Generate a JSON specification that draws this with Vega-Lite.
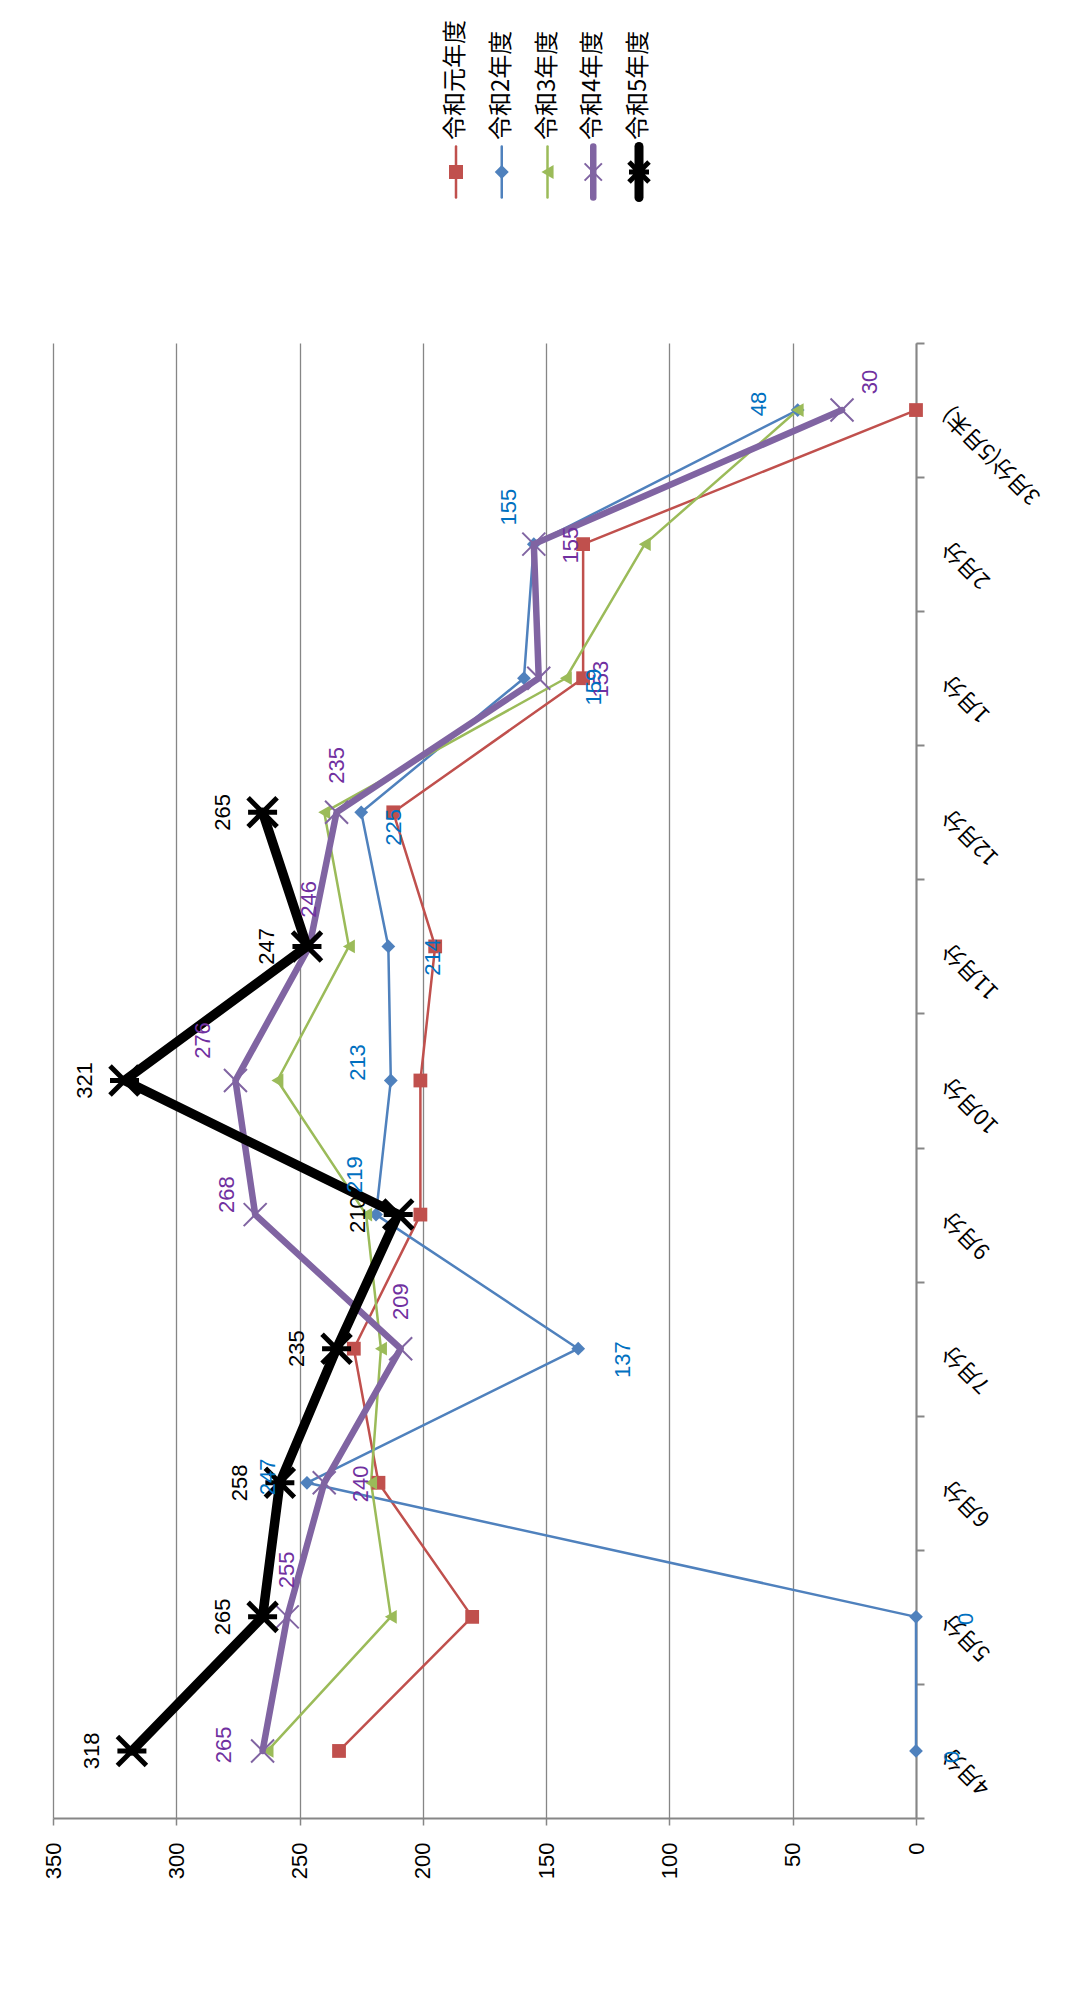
{
  "$schema": "https://vega.github.io/schema/vega-lite/v6.json",
  "padding": {"left": 42, "top": 5, "right": 5, "bottom": 5},
  "bounds": "flush",
  "spacing": 4,
  "config": {
    "view": {"stroke": null},
    "text": {"font": "Liberation Sans", "fontSize": 22, "angle": 270, "align": "center", "baseline": "middle"}
  },
  "datasets": {
    "d": [
      {"s": "令和元年度", "m": "4月分", "v": 234},
      {"s": "令和元年度", "m": "5月分", "v": 180},
      {"s": "令和元年度", "m": "6月分", "v": 218},
      {"s": "令和元年度", "m": "7月分", "v": 228},
      {"s": "令和元年度", "m": "9月分", "v": 201},
      {"s": "令和元年度", "m": "10月分", "v": 201},
      {"s": "令和元年度", "m": "11月分", "v": 195},
      {"s": "令和元年度", "m": "12月分", "v": 212},
      {"s": "令和元年度", "m": "1月分", "v": 135},
      {"s": "令和元年度", "m": "2月分", "v": 135},
      {"s": "令和元年度", "m": "3月分(5月末)", "v": 0},
      {"s": "令和2年度", "m": "4月分", "v": 0},
      {"s": "令和2年度", "m": "5月分", "v": 0},
      {"s": "令和2年度", "m": "6月分", "v": 247},
      {"s": "令和2年度", "m": "7月分", "v": 137},
      {"s": "令和2年度", "m": "9月分", "v": 219},
      {"s": "令和2年度", "m": "10月分", "v": 213},
      {"s": "令和2年度", "m": "11月分", "v": 214},
      {"s": "令和2年度", "m": "12月分", "v": 225},
      {"s": "令和2年度", "m": "1月分", "v": 159},
      {"s": "令和2年度", "m": "2月分", "v": 155},
      {"s": "令和2年度", "m": "3月分(5月末)", "v": 48},
      {"s": "令和3年度", "m": "4月分", "v": 263},
      {"s": "令和3年度", "m": "5月分", "v": 213},
      {"s": "令和3年度", "m": "6月分", "v": 221},
      {"s": "令和3年度", "m": "7月分", "v": 217},
      {"s": "令和3年度", "m": "9月分", "v": 223},
      {"s": "令和3年度", "m": "10月分", "v": 259},
      {"s": "令和3年度", "m": "11月分", "v": 230},
      {"s": "令和3年度", "m": "12月分", "v": 240},
      {"s": "令和3年度", "m": "1月分", "v": 142},
      {"s": "令和3年度", "m": "2月分", "v": 110},
      {"s": "令和3年度", "m": "3月分(5月末)", "v": 48},
      {"s": "令和4年度", "m": "4月分", "v": 265},
      {"s": "令和4年度", "m": "5月分", "v": 255},
      {"s": "令和4年度", "m": "6月分", "v": 240},
      {"s": "令和4年度", "m": "7月分", "v": 209},
      {"s": "令和4年度", "m": "9月分", "v": 268},
      {"s": "令和4年度", "m": "10月分", "v": 276},
      {"s": "令和4年度", "m": "11月分", "v": 246},
      {"s": "令和4年度", "m": "12月分", "v": 235},
      {"s": "令和4年度", "m": "1月分", "v": 153},
      {"s": "令和4年度", "m": "2月分", "v": 155},
      {"s": "令和4年度", "m": "3月分(5月末)", "v": 30},
      {"s": "令和5年度", "m": "4月分", "v": 318},
      {"s": "令和5年度", "m": "5月分", "v": 265},
      {"s": "令和5年度", "m": "6月分", "v": 258},
      {"s": "令和5年度", "m": "7月分", "v": 235},
      {"s": "令和5年度", "m": "9月分", "v": 210},
      {"s": "令和5年度", "m": "10月分", "v": 321},
      {"s": "令和5年度", "m": "11月分", "v": 247},
      {"s": "令和5年度", "m": "12月分", "v": 265}
    ],
    "leg": [
      {"s": "令和元年度"}, {"s": "令和2年度"}, {"s": "令和3年度"}, {"s": "令和4年度"}, {"s": "令和5年度"}
    ]
  },
  "vconcat": [
    {
      "width": 863,
      "height": 334,
      "data": {"name": "leg"},
      "encoding": {
        "x": {"field": "s", "type": "nominal", "scale": {"type": "point", "domain": ["令和元年度", "令和2年度", "令和3年度", "令和4年度", "令和5年度"], "padding": 0, "range": [403, 586]}, "axis": null},
        "color": {"field": "s", "type": "nominal", "scale": {"domain": ["令和元年度", "令和2年度", "令和3年度", "令和4年度", "令和5年度"], "range": ["#C0504D", "#4F81BD", "#9BBB59", "#8064A2", "#000000"]}, "legend": null}
      },
      "layer": [
        {"transform": [{"filter": "datum.s !== '令和4年度' && datum.s !== '令和5年度'"}], "mark": {"type": "point", "shape": "M0,-1L0,1", "size": 2601, "filled": false, "strokeWidth": 2.5, "strokeCap": "round", "opacity": 1}},
        {"transform": [{"filter": "datum.s === '令和4年度'"}], "mark": {"type": "point", "shape": "M0,-1L0,1", "size": 2601, "filled": false, "strokeWidth": 6.5, "strokeCap": "round", "opacity": 1}},
        {"transform": [{"filter": "datum.s === '令和5年度'"}], "mark": {"type": "point", "shape": "M0,-1L0,1", "size": 2601, "filled": false, "strokeWidth": 9, "strokeCap": "round", "opacity": 1}},
        {"transform": [{"filter": "datum.s !== '令和4年度' && datum.s !== '令和5年度'"}], "mark": {"type": "point", "filled": true, "size": 196, "opacity": 1},
         "encoding": {"shape": {"field": "s", "type": "nominal", "scale": {"domain": ["令和元年度", "令和2年度", "令和3年度"], "range": ["square", "diamond", "triangle-left"]}, "legend": null}}},
        {"transform": [{"filter": "datum.s === '令和4年度'"}], "mark": {"type": "point", "shape": "M-1,-1L1,1M-1,1L1,-1", "size": 300, "filled": false, "strokeWidth": 2, "opacity": 1}},
        {"transform": [{"filter": "datum.s === '令和5年度'"}], "mark": {"type": "point", "shape": "M-1,-1L1,1M-1,1L1,-1M-1,0L1,0", "size": 400, "filled": false, "strokeWidth": 5, "opacity": 1}},
        {"mark": {"type": "text", "angle": 270, "align": "left", "baseline": "middle", "dx": 32, "font": "Noto Sans CJK JP", "fontSize": 24},
         "encoding": {"text": {"field": "s", "type": "nominal"}, "color": {"value": "#000000"}}}
      ]
    },
    {
      "width": 863,
      "height": 1475,
      "data": {"name": "d"},
      "encoding": {
        "y": {"field": "m", "type": "ordinal", "bandPosition": 0.5,
          "scale": {"type": "band", "domain": ["3月分(5月末)", "2月分", "1月分", "12月分", "11月分", "10月分", "9月分", "7月分", "6月分", "5月分", "4月分"], "paddingInner": 0, "paddingOuter": 0},
          "axis": {"orient": "right", "title": null, "grid": false, "domainColor": "#868686", "domainWidth": 2, "tickColor": "#868686", "tickWidth": 2, "tickSize": 8, "tickBand": "extent",
            "labelAngle": 225, "labelAlign": "right", "labelBaseline": "middle", "labelPadding": 22, "labelFont": "Noto Sans CJK JP", "labelFontSize": 22, "labelColor": "#000000", "labelOverlap": false, "labelLimit": 0}},
        "x": {"field": "v", "type": "quantitative",
          "scale": {"domain": [0, 350], "reverse": true, "nice": false, "zero": true},
          "axis": {"orient": "bottom", "title": null, "values": [0, 50, 100, 150, 200, 250, 300, 350], "grid": true, "gridColor": "#868686", "gridWidth": 1.3,
            "domainColor": "#868686", "domainWidth": 2, "tickColor": "#868686", "tickWidth": 1.5, "tickSize": 7,
            "labelAngle": 270, "labelAlign": "right", "labelBaseline": "middle", "labelPadding": 17, "labelFont": "Liberation Sans", "labelFontSize": 22, "labelColor": "#000000", "labelOverlap": false}},
        "color": {"field": "s", "type": "nominal", "scale": {"domain": ["令和元年度", "令和2年度", "令和3年度", "令和4年度", "令和5年度"], "range": ["#C0504D", "#4F81BD", "#9BBB59", "#8064A2", "#000000"]}, "legend": null}
      },
      "layer": [
        {"transform": [{"filter": "datum.s !== '令和4年度' && datum.s !== '令和5年度'"}], "mark": {"type": "line", "strokeWidth": 2.5, "strokeJoin": "round"}, "encoding": {"order": {"value": null}}},
        {"transform": [{"filter": "datum.s !== '令和4年度' && datum.s !== '令和5年度'"}], "mark": {"type": "point", "filled": true, "size": 190, "opacity": 1},
         "encoding": {"shape": {"field": "s", "type": "nominal", "scale": {"domain": ["令和元年度", "令和2年度", "令和3年度"], "range": ["square", "diamond", "triangle-left"]}, "legend": null}}},
        {"transform": [{"filter": "datum.s === '令和4年度'"}], "mark": {"type": "line", "strokeWidth": 6.5, "strokeJoin": "round", "strokeCap": "round"}, "encoding": {"order": {"value": null}}},
        {"transform": [{"filter": "datum.s === '令和4年度'"}], "mark": {"type": "point", "shape": "M-1,-1L1,1M-1,1L1,-1", "size": 529, "filled": false, "strokeWidth": 2, "opacity": 1}},
        {"transform": [{"filter": "datum.s === '令和5年度'"}], "mark": {"type": "line", "strokeWidth": 9.5, "strokeJoin": "round", "strokeCap": "round"}, "encoding": {"order": {"value": null}}},
        {"transform": [{"filter": "datum.s === '令和5年度'"}], "mark": {"type": "point", "shape": "M-1,-1L1,1M-1,1L1,-1M-1,0L1,0", "size": 841, "filled": false, "strokeWidth": 5, "opacity": 1}},
        {"transform": [{"filter": "datum.s === '令和5年度'"}], "mark": {"type": "text", "dx": 0, "dy": -40},
         "encoding": {"text": {"field": "v", "type": "quantitative"}, "fill": {"field": "s", "type": "nominal", "scale": {"domain": ["令和2年度", "令和4年度", "令和5年度"], "range": ["#0070C0", "#7030A0", "#000000"]}, "legend": null}}},
        {"transform": [{"filter": "(datum.s === '令和4年度' && datum.m === '4月分') || (datum.s === '令和2年度' && indexof(['6月分', '3月分(5月末)'], datum.m) >= 0)"}], "mark": {"type": "text", "dx": 6, "dy": -39},
         "encoding": {"text": {"field": "v", "type": "quantitative"}, "fill": {"field": "s", "type": "nominal", "scale": {"domain": ["令和2年度", "令和4年度", "令和5年度"], "range": ["#0070C0", "#7030A0", "#000000"]}, "legend": null}}},
        {"transform": [{"filter": "datum.s === '令和4年度' && indexof(['5月分', '7月分', '11月分', '12月分'], datum.m) >= 0"}], "mark": {"type": "text", "dx": 47, "dy": 0},
         "encoding": {"text": {"field": "v", "type": "quantitative"}, "fill": {"field": "s", "type": "nominal", "scale": {"domain": ["令和2年度", "令和4年度", "令和5年度"], "range": ["#0070C0", "#7030A0", "#000000"]}, "legend": null}}},
        {"transform": [{"filter": "datum.s === '令和4年度' && indexof(['6月分', '2月分'], datum.m) >= 0"}], "mark": {"type": "text", "dx": -1, "dy": 37},
         "encoding": {"text": {"field": "v", "type": "quantitative"}, "fill": {"field": "s", "type": "nominal", "scale": {"domain": ["令和2年度", "令和4年度", "令和5年度"], "range": ["#0070C0", "#7030A0", "#000000"]}, "legend": null}}},
        {"transform": [{"filter": "datum.s === '令和2年度' && datum.m === '4月分'"}], "mark": {"type": "text", "dx": -6, "dy": 36},
         "encoding": {"text": {"field": "v", "type": "quantitative"}, "fill": {"field": "s", "type": "nominal", "scale": {"domain": ["令和2年度", "令和4年度", "令和5年度"], "range": ["#0070C0", "#7030A0", "#000000"]}, "legend": null}}},
        {"transform": [{"filter": "datum.s === '令和2年度' && datum.m === '5月分'"}], "mark": {"type": "text", "dx": -2, "dy": 50},
         "encoding": {"text": {"field": "v", "type": "quantitative"}, "fill": {"field": "s", "type": "nominal", "scale": {"domain": ["令和2年度", "令和4年度", "令和5年度"], "range": ["#0070C0", "#7030A0", "#000000"]}, "legend": null}}},
        {"transform": [{"filter": "datum.s === '令和2年度' && indexof(['7月分', '11月分'], datum.m) >= 0"}], "mark": {"type": "text", "dx": -11, "dy": 45},
         "encoding": {"text": {"field": "v", "type": "quantitative"}, "fill": {"field": "s", "type": "nominal", "scale": {"domain": ["令和2年度", "令和4年度", "令和5年度"], "range": ["#0070C0", "#7030A0", "#000000"]}, "legend": null}}},
        {"transform": [{"filter": "datum.s === '令和2年度' && datum.m === '12月分'"}], "mark": {"type": "text", "dx": -15, "dy": 33},
         "encoding": {"text": {"field": "v", "type": "quantitative"}, "fill": {"field": "s", "type": "nominal", "scale": {"domain": ["令和2年度", "令和4年度", "令和5年度"], "range": ["#0070C0", "#7030A0", "#000000"]}, "legend": null}}},
        {"transform": [{"filter": "datum.s === '令和4年度' && datum.m === '1月分'"}], "mark": {"type": "text", "dx": -1, "dy": 62},
         "encoding": {"text": {"field": "v", "type": "quantitative"}, "fill": {"field": "s", "type": "nominal", "scale": {"domain": ["令和2年度", "令和4年度", "令和5年度"], "range": ["#0070C0", "#7030A0", "#000000"]}, "legend": null}}},
        {"transform": [{"filter": "datum.s === '令和2年度' && datum.m === '1月分'"}], "mark": {"type": "text", "dx": -9, "dy": 70},
         "encoding": {"text": {"field": "v", "type": "quantitative"}, "fill": {"field": "s", "type": "nominal", "scale": {"domain": ["令和2年度", "令和4年度", "令和5年度"], "range": ["#0070C0", "#7030A0", "#000000"]}, "legend": null}}},
        {"transform": [{"filter": "datum.s === '令和4年度' && datum.m === '9月分'"}], "mark": {"type": "text", "dx": 20, "dy": -28},
         "encoding": {"text": {"field": "v", "type": "quantitative"}, "fill": {"field": "s", "type": "nominal", "scale": {"domain": ["令和2年度", "令和4年度", "令和5年度"], "range": ["#0070C0", "#7030A0", "#000000"]}, "legend": null}}},
        {"transform": [{"filter": "datum.s === '令和4年度' && datum.m === '10月分'"}], "mark": {"type": "text", "dx": 40, "dy": -32},
         "encoding": {"text": {"field": "v", "type": "quantitative"}, "fill": {"field": "s", "type": "nominal", "scale": {"domain": ["令和2年度", "令和4年度", "令和5年度"], "range": ["#0070C0", "#7030A0", "#000000"]}, "legend": null}}},
        {"transform": [{"filter": "datum.s === '令和2年度' && datum.m === '9月分'"}], "mark": {"type": "text", "dx": 40, "dy": -21},
         "encoding": {"text": {"field": "v", "type": "quantitative"}, "fill": {"field": "s", "type": "nominal", "scale": {"domain": ["令和2年度", "令和4年度", "令和5年度"], "range": ["#0070C0", "#7030A0", "#000000"]}, "legend": null}}},
        {"transform": [{"filter": "datum.s === '令和2年度' && datum.m === '10月分'"}], "mark": {"type": "text", "dx": 18, "dy": -33},
         "encoding": {"text": {"field": "v", "type": "quantitative"}, "fill": {"field": "s", "type": "nominal", "scale": {"domain": ["令和2年度", "令和4年度", "令和5年度"], "range": ["#0070C0", "#7030A0", "#000000"]}, "legend": null}}},
        {"transform": [{"filter": "datum.s === '令和2年度' && datum.m === '2月分'"}], "mark": {"type": "text", "dx": 37, "dy": -25},
         "encoding": {"text": {"field": "v", "type": "quantitative"}, "fill": {"field": "s", "type": "nominal", "scale": {"domain": ["令和2年度", "令和4年度", "令和5年度"], "range": ["#0070C0", "#7030A0", "#000000"]}, "legend": null}}},
        {"transform": [{"filter": "datum.s === '令和4年度' && datum.m === '3月分(5月末)'"}], "mark": {"type": "text", "dx": 28, "dy": 28},
         "encoding": {"text": {"field": "v", "type": "quantitative"}, "fill": {"field": "s", "type": "nominal", "scale": {"domain": ["令和2年度", "令和4年度", "令和5年度"], "range": ["#0070C0", "#7030A0", "#000000"]}, "legend": null}}}
      ]
    }
  ]
}
